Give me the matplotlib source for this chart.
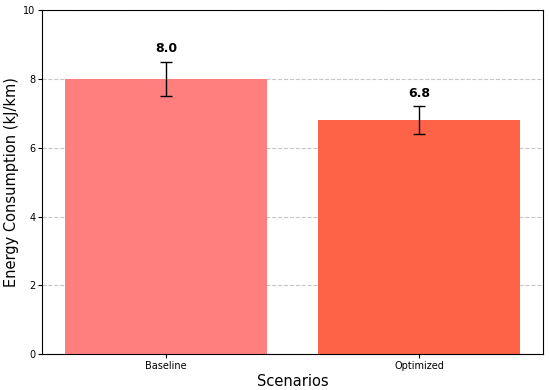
import numpy as np
import matplotlib.pyplot as plt

scenarios = ["Baseline", "Optimized"]
energy = [8.0, 6.8]
errors = [0.5, 0.4]
colors = ["#FF7F7F", "#FF6347"]

fig = plt.figure(figsize=(5.5, 3.9), dpi=100)
ax = fig.add_axes([0.077, 0.092, 0.91, 0.882])

x = np.arange(len(scenarios))
ax.bar(x, energy, width=0.8, color=colors, yerr=errors, capsize=4,
       error_kw=dict(elinewidth=1, ecolor="black", capthick=1))

for xi, v, e in zip(x, energy, errors):
    ax.text(xi, v + e + 0.2, f"{v:.1f}", ha="center", va="bottom",
            fontsize=9, fontweight="bold")

ax.set_xticks(x)
ax.set_xticklabels(scenarios, fontsize=7)
ax.tick_params(axis="both", labelsize=7, length=3, pad=2)
ax.set_ylim(0, 10)
ax.set_xlabel("Scenarios", fontsize=10.5, labelpad=2)
ax.set_ylabel("Energy Consumption (kJ/km)", fontsize=10.5, labelpad=3)
ax.yaxis.grid(True, linestyle="--", alpha=0.7)
ax.set_axisbelow(True)

fig.savefig("out.png", dpi=100)
